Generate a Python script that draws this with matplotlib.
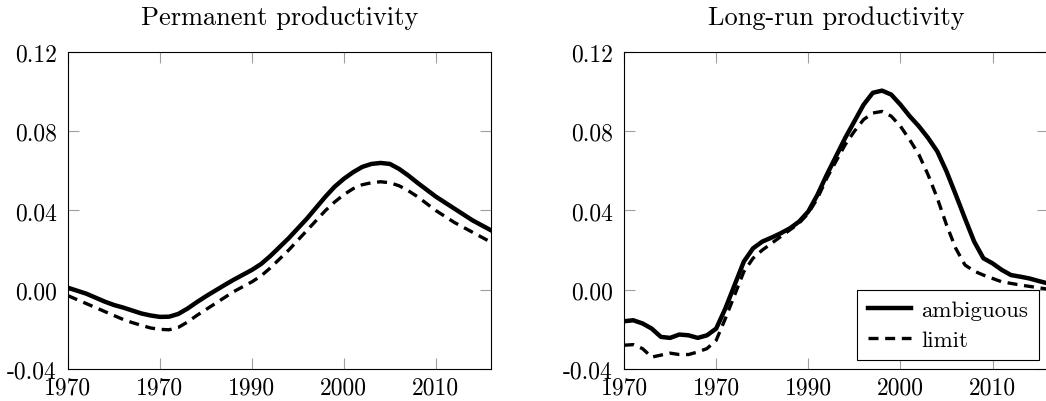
import matplotlib
matplotlib.use("Agg")
import matplotlib.pyplot as plt

plt.rcParams['font.family'] = 'serif'
plt.rcParams['font.serif'] = ['cmr10', 'DejaVu Serif']
plt.rcParams['mathtext.fontset'] = 'cm'

# Permanent productivity
perm_years = list(range(1970, 2017))
perm_ambiguous = [0.001, -0.0005, -0.002, -0.004, -0.006, -0.0077, -0.009, -0.0105, -0.012,
                  -0.013, -0.0137, -0.0136, -0.0122, -0.0095, -0.0063, -0.0033, -0.0005,
                  0.0023, 0.005, 0.0075, 0.010, 0.013, 0.017, 0.0215, 0.026, 0.031, 0.036,
                  0.0415, 0.047, 0.052, 0.056, 0.0593, 0.062, 0.0635, 0.064, 0.0635, 0.061,
                  0.0577, 0.054, 0.0505, 0.047, 0.044, 0.041, 0.038, 0.035, 0.0325, 0.030]
perm_limit = [-0.003, -0.005, -0.007, -0.009, -0.011, -0.013, -0.015, -0.0166, -0.018,
              -0.0193, -0.020, -0.0202, -0.019, -0.0163, -0.013, -0.010, -0.007, -0.004,
              -0.001, 0.0015, 0.004, 0.007, 0.011, 0.0155, 0.020, 0.025, 0.030, 0.035,
              0.040, 0.0443, 0.048, 0.051, 0.053, 0.054, 0.0545, 0.054, 0.0525, 0.050,
              0.047, 0.0435, 0.040, 0.037, 0.034, 0.0315, 0.029, 0.0265, 0.024]

# Long-run productivity
lr_years = list(range(1970, 2017))
lr_ambiguous = [-0.0159, -0.0154, -0.017, -0.0196, -0.0238, -0.0243, -0.0226, -0.023, -0.0243,
                -0.023, -0.0196, -0.0094, 0.0024, 0.0142, 0.0209, 0.0243, 0.0263, 0.0285,
                0.031, 0.0344, 0.0395, 0.048, 0.058, 0.0673, 0.0766, 0.085, 0.0934, 0.0994,
                0.1005, 0.0985, 0.0934, 0.0876, 0.0825, 0.0766, 0.0698, 0.0597, 0.048, 0.036,
                0.0243, 0.0159, 0.0133, 0.010, 0.0074, 0.0066, 0.0057, 0.0044, 0.0032]
lr_limit = [-0.028, -0.0277, -0.0297, -0.034, -0.033, -0.032, -0.0327, -0.0327, -0.0314,
            -0.0297, -0.0255, -0.0145, -0.0027, 0.0091, 0.0159, 0.020, 0.0234, 0.0268,
            0.0302, 0.0336, 0.0386, 0.0462, 0.0563, 0.0648, 0.0732, 0.080, 0.0859, 0.0892,
            0.090, 0.0876, 0.0825, 0.0757, 0.0682, 0.058, 0.0462, 0.0327, 0.0209, 0.0125,
            0.0094, 0.0074, 0.0057, 0.004, 0.0032, 0.0024, 0.0017, 0.001, 0.0003]

xticks = [1970, 1980, 1990, 2000, 2010]
xtick_labels = ['1970', '1970', '1990', '2000', '2010']
yticks = [-0.04, 0.00, 0.04, 0.08, 0.12]
ytick_labels = ['-0.04', '0.00', '0.04', '0.08', '0.12']

fig = plt.figure(figsize=(10.46, 4.02), dpi=100)
ax1 = fig.add_axes([0.065, 0.0796, 0.4044, 0.7886])
ax2 = fig.add_axes([0.5966, 0.0796, 0.4052, 0.7886])

panels = [
    (ax1, "Permanent productivity", perm_years, perm_ambiguous, perm_limit),
    (ax2, "Long-run productivity", lr_years, lr_ambiguous, lr_limit),
]

for ax, title, yrs, amb, lim in panels:
    ax.plot(yrs, amb, color='black', lw=3.2, solid_joinstyle='round', label='ambiguous')
    ax.plot(yrs, lim, color='black', lw=2.4, ls=(0, (3, 2)), label='limit')
    ax.set_xlim(1970, 2016)
    ax.set_ylim(-0.04, 0.12)
    ax.set_xticks(xticks)
    ax.set_xticklabels(xtick_labels)
    ax.set_yticks(yticks)
    ax.set_yticklabels(ytick_labels)
    ax.tick_params(direction='in', top=True, right=True, length=8, width=0.8,
                   color='#a0a0a0', labelcolor='black', labelsize=17)
    ax.tick_params(axis='x', pad=5)
    ax.tick_params(axis='y', pad=8)
    for sp in ax.spines.values():
        sp.set_linewidth(0.8)
        sp.set_color('black')
    ax.set_title(title, fontsize=19, pad=20)

leg = ax2.legend(loc='lower right', fontsize=16.5, fancybox=False, framealpha=1,
                 edgecolor='black', handlelength=1.9, borderpad=0.45, labelspacing=0.4,
                 handletextpad=0.45, borderaxespad=0.4)
leg.get_frame().set_linewidth(0.8)

fig.savefig('out.png', dpi=100)
